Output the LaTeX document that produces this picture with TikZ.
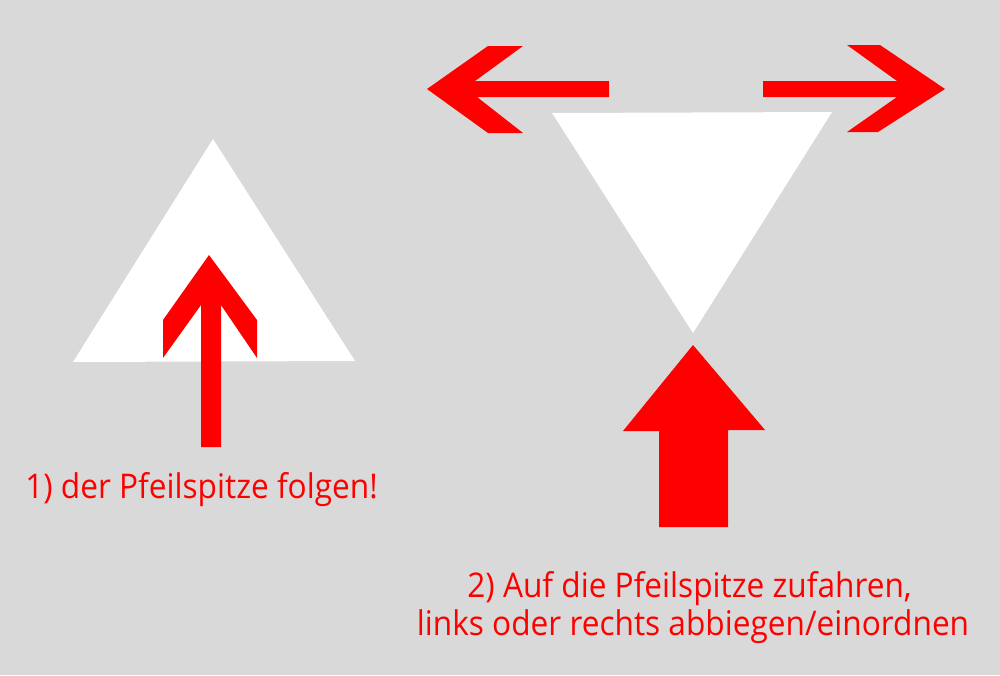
\documentclass[tikz,border=0pt]{standalone}
\usepackage{fontspec}
\setmainfont{Open Sans}[FakeStretch=0.93]
\definecolor{bg}{RGB}{217,217,217}
\definecolor{sred}{RGB}{255,0,0}
\begin{document}
\begin{tikzpicture}[x=1pt,y=-1pt,
  sign/.style={fill=white,draw=none},
  arr/.style={fill=sred,draw=none},
  lbl/.style={text=sred,font=\fontsize{34}{40}\selectfont,inner sep=0pt,anchor=base}]
\fill[bg] (0,0) rectangle (1000,675);
\useasboundingbox (0,0) rectangle (1000,675);
% left triangle
\fill[sign] (213,139) -- (355,361) -- (73,362) -- cycle;
% small arrow
\fill[arr] (209,255) -- (257,320) -- (257,358) -- (221,305) -- (221,447) -- (201,447)
  -- (201,305) -- (163,358) -- (163,320) -- cycle;
% inverted triangle
\fill[sign] (552,113) -- (832,112) -- (693,333) -- cycle;
% left arrow
\fill[arr] (427,89) -- (488,46) -- (523,46) -- (475,81) -- (609,81) -- (609,97)
  -- (477,97) -- (523,133) -- (488,133) -- cycle;
% right arrow
\fill[arr] (945,89) -- (880,45) -- (847,45) -- (897,81) -- (763,81) -- (763,97)
  -- (897,97) -- (847,132) -- (878,132) -- cycle;
% big arrow
\fill[arr] (693,345) -- (765,430) -- (728,430) -- (728,527) -- (659,527) -- (659,431)
  -- (623,431) -- cycle;
% texts
\node[lbl] (t1) at (201.5,498) {1) der Pfeilspitze folgen!};
\node[lbl] (t2a) at (689.5,597) {2) Auf die Pfeilspitze zufahren,};
\node[lbl] (t2b) at (693,635) {links oder rechts abbiegen/einordnen};
\end{tikzpicture}
\end{document}
